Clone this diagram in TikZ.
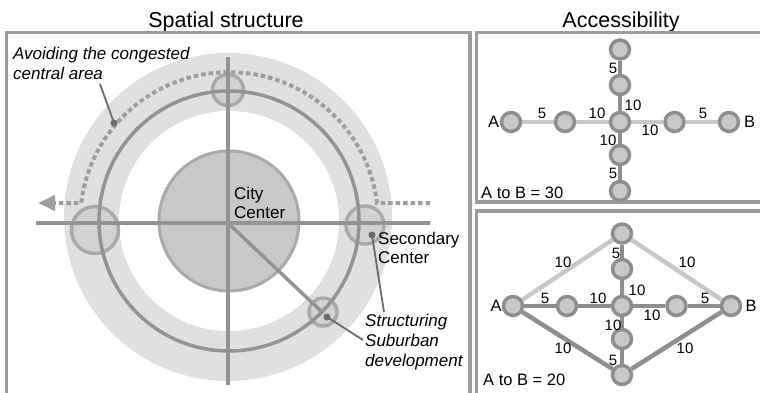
\documentclass[tikz,border=0pt]{standalone}
\usepackage{fontspec}
\setmainfont{Liberation Sans}
\definecolor{ringgray}{HTML}{E0E0E0}
\definecolor{roadgray}{HTML}{939393}
\definecolor{coregray}{HTML}{C8C8C8}
\definecolor{subgray}{HTML}{D2D2D2}
\definecolor{rimgray}{HTML}{A9A9A9}
\definecolor{leadgray}{HTML}{6B6B6B}
\definecolor{framegray}{HTML}{9C9C9C}
\definecolor{linkdark}{HTML}{8E8E8E}
\definecolor{linklight}{HTML}{C8C8C8}
\usetikzlibrary{arrows.meta, backgrounds}

\begin{document}
\begin{tikzpicture}[
  x=1pt, y=-1pt,
  title/.style={font=\fontsize{21.5}{24}\selectfont, anchor=base},
  note/.style={font=\fontsize{17}{20}\selectfont\itshape, align=left,
               anchor=north west, inner sep=0pt},
  place/.style={font=\fontsize{17}{19}\selectfont, align=left,
                anchor=north west, inner sep=0pt},
  stop/.style={circle, draw=linkdark, fill=coregray, line width=3.5pt,
               minimum size=19pt, inner sep=0pt},
  num/.style={font=\fontsize{15}{17}\selectfont, inner sep=0pt},
  tag/.style={font=\fontsize{16.5}{18}\selectfont, inner sep=0pt},
  light/.style={line width=4.5pt, linklight},
  dark/.style={line width=4.5pt, linkdark},
  frame/.style={draw=framegray, line width=3.3pt},
  road/.style={roadgray, line width=3.5pt},
  sub/.style={draw=rimgray, fill=subgray, line width=3.5pt},
  leader/.style={leadgray, line width=1.8pt},
  route/.style={roadgray!90, line width=4pt, dash pattern=on 4.5pt off 3pt}
]
\useasboundingbox (0,0) rectangle (760,392);
\clip (0,0) rectangle (760,392);

% titles and frames
\node[title] (ttlleft) at (226,27) {Spatial structure};
\node[title] (ttlright) at (621,27) {Accessibility};
\draw[frame] (6.5,32.5) rectangle (470,410);
\draw[frame] (476.5,32.5) rectangle (780,202);
\draw[frame] (476.5,211) rectangle (780,410);

% spatial structure
\fill[ringgray] (228,217) circle[radius=164];
\fill[white] (229,221) circle[radius=110];
\draw[draw=rimgray, fill=coregray, line width=3pt] (229,221) circle[radius=70];
\draw[sub] (95,230) circle[radius=23.5];
\draw[sub] (365,225) circle[radius=19];
\draw[sub] (228,90) circle[radius=15.5];
\draw[sub] (323,312) circle[radius=14];

\draw[route, -{Triangle[length=17pt,width=15pt]}] (430,203) -- (377,203)
  arc[start angle=-7, end angle=-173, radius=149] -- (38,203);

\draw[road] (229,221) circle[radius=130];
\draw[road] (36,223) -- (430,223);
\draw[road] (228,57) -- (228,385);
\draw[road] (228,223) -- (323,313);

\coordinate (avoidtail) at (100,84);
\coordinate (avoidpin) at (114,123);
\coordinate (secpin) at (372,235);
\coordinate (sectail) at (384,312);
\coordinate (subpin) at (327,317);
\coordinate (subtail) at (363,340);
\draw[leader] (avoidtail) -- (avoidpin);
\draw[leader] (secpin) -- (sectail);
\draw[leader] (subpin) -- (subtail);
\foreach \p in {avoidpin, secpin, subpin}
  \fill[leadgray] (\p) circle[radius=3.5];

\node[note] (avoid) at (13,47) {Avoiding the congested\\central area};
\node[place] (city) at (234,187) {City\\Center};
\node[place] (second) at (378,232) {Secondary\\Center};
\node[note] (suburb) at (365,314) {Structuring\\Suburban\\development};

% accessibility networks
\foreach \g/\cx/\cy in {1/620/122, 2/622/306} {
  \begin{scope}[shift={(\cx,\cy)}]
    \node[stop] (a\g) at (-109,0) {};
    \node[stop] (l\g) at (-55,0) {};
    \node[stop] (c\g) at (0,0) {};
    \node[stop] (r\g) at (54.5,0) {};
    \node[stop] (b\g) at (109,0) {};
    \node[stop] (t\g) at (0,-72.5) {};
    \node[stop] (u\g) at (0,-37) {};
    \node[stop] (d\g) at (0,33) {};
    \node[stop] (e\g) at (0,69) {};
  \end{scope}
}
\begin{scope}[on background layer]
  \draw[light] (a1) -- (l1) -- (c1) -- (r1) -- (b1);
  \draw[dark] (t1) -- (u1) -- (c1) -- (d1) -- (e1);
  \draw[light] (a2) -- (t2) -- (b2);
  \draw[dark] (a2) -- (e2) -- (b2);
  \draw[dark] (a2) -- (l2) -- (c2) -- (r2) -- (b2);
  \draw[dark] (t2) -- (u2) -- (c2) -- (d2) -- (e2);
\end{scope}

\foreach \x/\y/\t [count=\i] in {542/113/5, 597/113/10, 633/105/10, 613/68/5,
    650/130/10, 703/113/5, 608/140/10, 613/173/5,
    563/262/10, 687/262/10, 616/253/5, 637/290/10, 545/298/5, 598/298/10,
    652/315/10, 705/298/5, 613/325/10, 563/348/10, 685/348/10, 613/360/5}
  \node[num] (w\i) at (\x,\y) {\t};

\node[tag] (tagA1) at (493.5,122) {A};
\node[tag] (tagB1) at (749.5,122) {B};
\node[tag] (tagA2) at (496,306) {A};
\node[tag] (tagB2) at (751,306) {B};
\node[tag, anchor=west] (sum1) at (481,193) {A to B = 30};
\node[tag, anchor=west] (sum2) at (483,380) {A to B = 20};
\end{tikzpicture}
\end{document}
